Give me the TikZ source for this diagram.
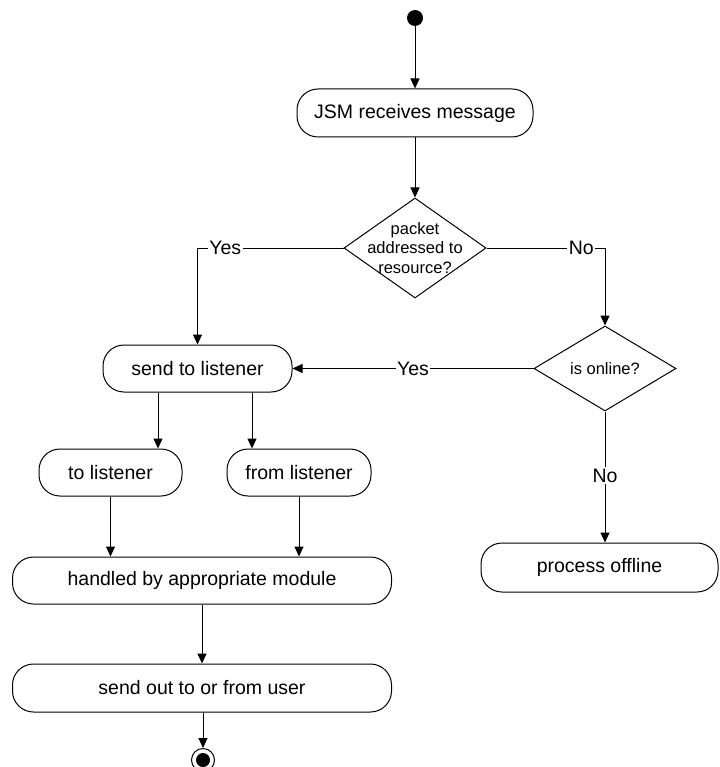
\documentclass[tikz,border=0pt]{standalone}
\usepackage{fontspec}
\setmainfont{Liberation Sans}
\usetikzlibrary{arrows.meta,shapes.geometric}
\begin{document}
\begin{tikzpicture}[x=1pt,y=-1pt,
  every node/.style={font=\fontsize{19.5}{22}\selectfont},
  activity/.style={draw, line width=1pt, rounded corners=21pt, inner sep=0pt},
  decision/.style={draw, line width=1pt, diamond, inner sep=0pt},
  dtext/.style={align=center, inner sep=0pt, font=\fontsize{16.5}{19.5}\selectfont},
  flow/.style={line width=1pt, -{Triangle[length=10pt,width=9pt]}},
  plain/.style={line width=1pt},
  lbl/.style={fill=white, inner sep=1.5pt}]
  \useasboundingbox (0,0) rectangle (719,767);

  % start and end markers
  \node[circle, fill=black, minimum size=16pt, inner sep=0pt] (start) at (415,18) {};
  \node[circle, draw, line width=1pt, minimum size=23pt, inner sep=0pt] (stop) at (203,760) {};
  \fill (stop.center) circle (7pt);

  % activities
  \node[activity, minimum width=236pt, minimum height=48pt] (jsm) at (415,113) {JSM receives message};
  \node[activity, minimum width=189pt, minimum height=47pt] (send) at (197.5,368.5) {send to listener};
  \node[activity, minimum width=143pt, minimum height=47pt] (tolis) at (110.5,472.5) {to listener};
  \node[activity, minimum width=144pt, minimum height=47pt] (fromlis) at (299,472.5) {from listener};
  \node[activity, minimum width=379pt, minimum height=47pt] (handled) at (202,580.5) {handled by appropriate module};
  \node[activity, minimum width=379pt, minimum height=48pt] (sendout) at (202,688) {send out to or from user};
  \node[activity, minimum width=237pt, minimum height=49pt] (offline) at (599.5,567.5) {process offline};

  % decisions
  \node[decision, minimum width=142pt, minimum height=100pt,
        label={[dtext]center:packet\\addressed to\\resource?}] (addr) at (415,248) {};
  \node[decision, minimum width=142pt, minimum height=85pt,
        label={[dtext]center:is online?}] (online) at (605,368.5) {};

  % connectors
  \draw[flow] (start) -- (jsm);
  \draw[flow] (jsm) -- (addr);
  \draw[flow] (addr.west) -| node[lbl, pos=0.405] {Yes} (send.north);
  \draw[flow] (addr.east) -| node[lbl, pos=0.40] {No} (online.north);
  \draw[flow] (online.west) -- node[lbl, pos=0.5] {Yes} (send.east);
  \draw[flow] (online.south) -- node[lbl, pos=0.49] {No} (online.south |- offline.north);
  \draw[flow] ([xshift=-39.5pt]send.south) -- ([xshift=-39.5pt]send.south |- tolis.north);
  \draw[flow] ([xshift=54.5pt]send.south) -- ([xshift=54.5pt]send.south |- fromlis.north);
  \draw[flow] (tolis.south) -- (tolis.south |- handled.north);
  \draw[flow] (fromlis.south) -- (fromlis.south |- handled.north);
  \draw[flow] (handled) -- (sendout);
  \draw[flow] (sendout.south -| stop.north) -- (stop.north);
\end{tikzpicture}
\end{document}
